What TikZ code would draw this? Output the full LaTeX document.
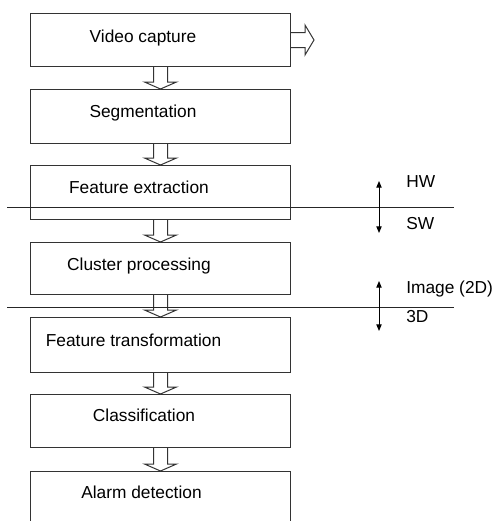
\documentclass[tikz,border=0pt]{standalone}
\usepackage{fontspec}
\setmainfont{Liberation Sans}
\usetikzlibrary{arrows.meta,calc}
\begin{document}
\begin{tikzpicture}[x=0.75pt,y=-0.75pt,
  stage/.style={draw=black!80,line width=0.75pt,minimum width=195pt,inner sep=0pt,anchor=north west},
  lbl/.style={font=\fontsize{13}{15}\selectfont,inner sep=0pt,anchor=mid},
  side/.style={font=\fontsize{13}{15}\selectfont,inner sep=0pt,anchor=mid west},
  hollow/.style={draw=black!80,line width=0.75pt,fill=white,line join=miter},
  sep/.style={draw=black!85,line width=0.75pt},
  dbl/.style={draw=black,line width=0.75pt,{Triangle[length=5pt,width=4pt]}-{Triangle[length=5pt,width=4pt]}}
]
\useasboundingbox (0,0) rectangle (495,521);
\clip (0,0) rectangle (495,521);
\fill[white] (0,0) rectangle (495,521);

% stage boxes
\node[stage,minimum height=39.75pt] (b1) at (30,13) {};
\node[stage,minimum height=40.5pt]  (b2) at (30,89) {};
\node[stage,minimum height=40.5pt]  (b3) at (30,165) {};
\node[stage,minimum height=39pt]    (b4) at (30,242) {};
\node[stage,minimum height=41.25pt] (b5) at (30,317) {};
\node[stage,minimum height=39.75pt] (b6) at (30,394) {};
\node[stage,minimum height=60pt]    (b7) at (30,471) {};

% texts
\node[lbl] (t1) at (143,38.5) {Video capture};
\node[lbl] (t2) at (143,114) {Segmentation};
\node[lbl] (t3) at (139,190) {Feature extraction};
\node[lbl] (t4) at (139,267) {Cluster processing};
\node[lbl] (t5) at (133.5,343) {Feature transformation};
\node[lbl] (t6) at (144,418) {Classification};
\node[lbl] (t7) at (141.5,495) {Alarm detection};

% hollow arrows between stages
\newcommand\hollowdown[2]{%
  \draw[hollow] ($(#1.south)+(-7,0)$) -- ($(#2.north)+(-7,-7)$) -- ($(#2.north)+(-16,-7)$)
    -- (#2.north) -- ($(#2.north)+(16,-7)$) -- ($(#2.north)+(7,-7)$) -- ($(#1.south)+(7,0)$);}
\hollowdown{b1}{b2}
\hollowdown{b2}{b3}
\hollowdown{b3}{b4}
\hollowdown{b4}{b5}
\hollowdown{b5}{b6}
\hollowdown{b6}{b7}

% output arrow
\coordinate (out) at ($(b1.east)+(23,0)$);
\draw[hollow] ($(b1.east)+(0,-7.5)$) -- ($(out)+(-9,-7.5)$) -- ($(out)+(-9,-15)$) -- (out)
  -- ($(out)+(-9,15)$) -- ($(out)+(-9,7.5)$) -- ($(b1.east)+(0,7.5)$);

% separators
\coordinate (s1l) at (7,207.5); \coordinate (s1r) at (454,207.5);
\coordinate (s2l) at (7,307); \coordinate (s2r) at (454,307);
\draw[sep] (s1l) -- (s1r);
\draw[sep] (s2l) -- (s2r);

% double arrows
\coordinate (d1t) at (379,181); \coordinate (d1b) at (379,233);
\coordinate (d2t) at (379,281); \coordinate (d2b) at (379,331);
\draw[dbl] (d1t) -- (d1b);
\draw[dbl] (d2t) -- (d2b);

\node[side] (hw) at (406,184) {HW};
\node[side] (sw) at (406,226) {SW};
\node[side] (img) at (406,290) {Image (2D)};
\node[side] (d3) at (406,319) {3D};
\end{tikzpicture}
\end{document}
